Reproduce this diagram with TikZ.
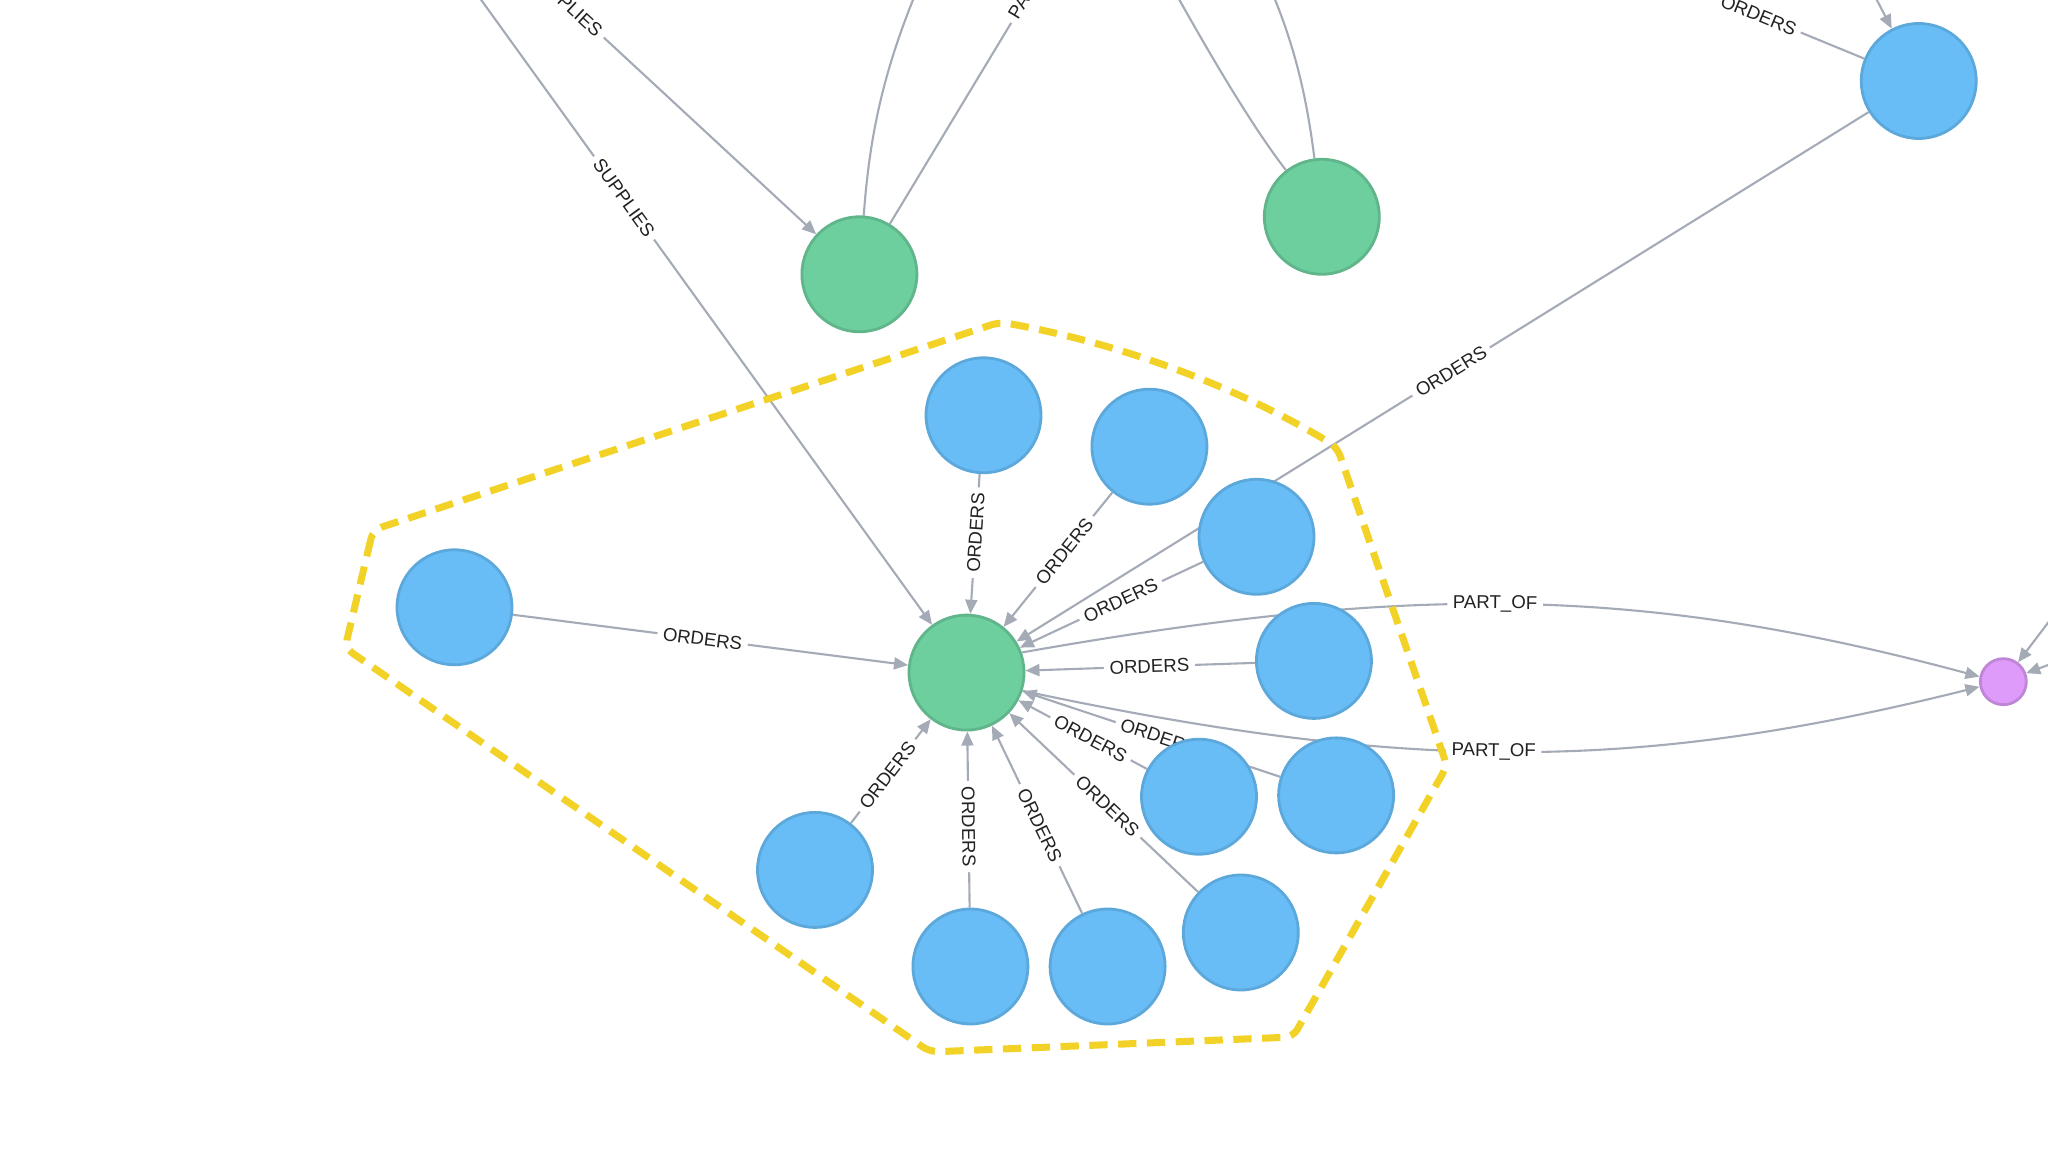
\documentclass[tikz,border=0pt]{standalone}
\usepackage{fontspec}
\setmainfont{Liberation Sans}
\usetikzlibrary{arrows.meta,backgrounds}
\definecolor{nblue}{HTML}{68BDF6}
\definecolor{nbluedk}{HTML}{5CA8DB}
\definecolor{ngreen}{HTML}{6DCE9E}
\definecolor{ngreendk}{HTML}{60B58B}
\definecolor{npink}{HTML}{DE9BF9}
\definecolor{npinkdk}{HTML}{BF85D6}
\definecolor{edgegray}{HTML}{A5ABB6}
\definecolor{hullyellow}{RGB}{243,210,40}
\definecolor{labeltext}{HTML}{222222}
\begin{document}
\begin{tikzpicture}[x=0.1mm,y=-0.1mm,
  bluenode/.style={circle,fill=nblue,draw=nbluedk,line width=0.8pt,minimum size=11.5mm,inner sep=0pt},
  greennode/.style={circle,fill=ngreen,draw=ngreendk,line width=0.8pt,minimum size=11.5mm,inner sep=0pt},
  pinknode/.style={circle,fill=npink,draw=npinkdk,line width=0.8pt,minimum size=4.6mm,inner sep=0pt},
  rel/.style={draw=edgegray,line width=0.6pt},
  relarrow/.style={rel,-{Triangle[length=4pt,width=3.4pt]}},
  rellabel/.style={sloped,fill=white,text=labeltext,inner xsep=1.6pt,inner ysep=0.6pt,font=\fontsize{5.3pt}{6pt}\selectfont},
  hull/.style={draw=hullyellow,line width=2pt,dash pattern=on 5.2pt off 3pt,rounded corners=2.5pt}
]
\useasboundingbox (0,0) rectangle (2048,1152);
\clip (0,0) rectangle (2048,1152);

% nodes
\node[greennode] (C)  at (966.5,672.6) {};
\node[greennode] (G1) at (859.4,274.3) {};
\node[greennode] (G2) at (1321.8,216.8) {};
\node[bluenode]  (Btr) at (1918.7,81) {};
\node[pinknode]  (P)  at (2003.3,681.7) {};
\node[bluenode] (B1)  at (454.5,607.3) {};
\node[bluenode] (B2)  at (983.5,415.3) {};
\node[bluenode] (B3)  at (1149.4,446.7) {};
\node[bluenode] (B4)  at (1256.5,536.8) {};
\node[bluenode] (B5)  at (1313.9,660.9) {};
\node[bluenode] (B6)  at (1199,796.7) {};
\node[bluenode] (B7)  at (1336.1,795.4) {};
\node[bluenode] (B8)  at (1240.8,932.5) {};
\node[bluenode] (B9)  at (1107.6,966.5) {};
\node[bluenode] (B10) at (970.4,966.5) {};
\node[bluenode] (B11) at (815,869.9) {};

% off-picture ends
\coordinate (S)   at (316,-229);
\coordinate (T1a) at (930,-40);
\coordinate (T1b) at (1182,-260);
\coordinate (T2a) at (1160,-35);
\coordinate (T2b) at (1262,-30);
\coordinate (T3)  at (1526.8,-80);
\coordinate (Tt)  at (1835,-81);
\coordinate (Pa)  at (2088,570);
\coordinate (Pb)  at (2134,633);

\begin{pgfonlayer}{background}
\clip (0,0) rectangle (2048,1152);
\fill[white] (0,0) rectangle (2048,1152);
% top edges
\draw[relarrow] (S) -- (G1) node[rellabel,pos=0.5]{SUPPLIES};
\draw[relarrow] (S) -- (C) node[rellabel,pos=0.5]{SUPPLIES};
\draw[rel] (G1) .. controls (870,130) and (885,60) .. (T1a);
\draw[rel] (G1) -- (T1b) node[rellabel,pos=0.5]{PART\_OF};
\draw[rel] (G2) .. controls (1255,130) and (1215,65) .. (T2a);
\draw[rel] (G2) .. controls (1307,100) and (1295,40) .. (T2b);
\draw[relarrow] (Btr) -- (T3) node[rellabel,pos=0.313]{ORDERS};
\draw[relarrow] (Tt) -- (Btr);
\draw[relarrow] (Btr) -- (C) node[rellabel,pos=0.49]{ORDERS};
% star around C
\draw[relarrow] (B1) -- (C) node[rellabel,pos=0.48]{ORDERS};
\draw[relarrow] (B2) -- (C) node[rellabel,pos=0.42]{ORDERS};
\draw[relarrow] (B3) -- (C) node[rellabel,pos=0.44]{ORDERS};
\draw[relarrow] (B4) -- (C) node[rellabel,pos=0.45]{ORDERS};
\draw[relarrow] (B5) -- (C) node[rellabel,pos=0.46]{ORDERS};
\draw[relarrow] (B7) -- (C) node[rellabel,pos=0.47]{ORDERS};
\draw[relarrow] (B6) -- (C) node[rellabel,pos=0.44]{ORDERS};
\draw[relarrow] (B8) -- (C) node[rellabel,pos=0.48]{ORDERS};
\draw[relarrow] (B9) -- (C) node[rellabel,pos=0.47]{ORDERS};
\draw[relarrow] (B10) -- (C) node[rellabel,pos=0.46]{ORDERS};
\draw[relarrow] (B11) -- (C) node[rellabel,pos=0.46]{ORDERS};
% PART_OF to pink
\draw[relarrow] (C.20) .. controls (1415.8,583) and (1641.8,586.1) .. (P.168) node[rellabel,pos=0.47]{PART\_OF};
\draw[relarrow] (C.-18) .. controls (1413.6,774) and (1640.3,771.4) .. (P.192) node[rellabel,pos=0.47]{PART\_OF};
\draw[relarrow] (Pa) -- (P);
\draw[relarrow] (Pb) -- (P);
\end{pgfonlayer}

% highlighted group
\draw[hull] (373,530) -- (345,648) -- (930,1052) -- (1293,1037) -- (1447,766) -- (1337,447)
  .. controls (1235,385.7) and (1122.7,344.1) .. (1000,322) -- cycle;
\end{tikzpicture}
\end{document}
